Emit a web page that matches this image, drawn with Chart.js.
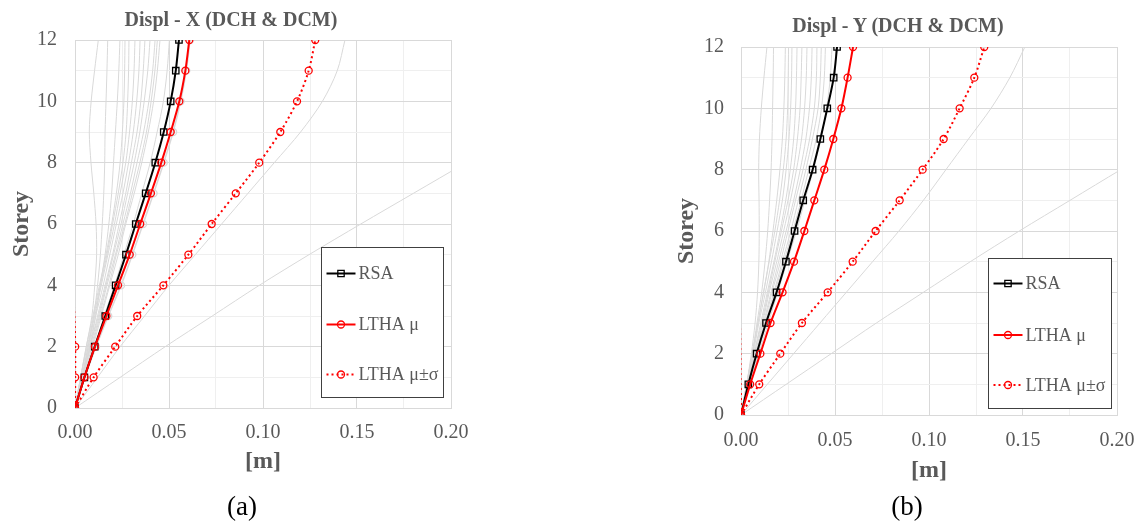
<!DOCTYPE html>
<html>
<head>
<meta charset="utf-8">
<script src="https://cdn.jsdelivr.net/npm/chart.js@4.4.1/dist/chart.umd.min.js"></script>
<style>
  html, body { margin: 0; padding: 0; background: #fff; }
  body { width: 1141px; height: 521px; position: relative; overflow: hidden; font-family: "Liberation Serif", "Times New Roman", serif; }
  canvas { position: absolute; top: 0; }
  .title { position: absolute; width: 320px; text-align: center; font-weight: bold; font-size: 20px; line-height: 24px; color: #595959; }
  .cap { position: absolute; width: 60px; text-align: center; font-size: 27px; line-height: 30px; color: #000; }
</style>
</head>
<body>
<canvas id="chartA" width="570" height="521" style="left:0"></canvas>
<canvas id="chartB" width="571" height="521" style="left:570px"></canvas>
<div class="title" style="left:71px;top:7px">Displ - X (DCH &amp; DCM)</div>
<div class="title" style="left:738px;top:13px">Displ - Y (DCH &amp; DCM)</div>
<div class="cap" style="left:212px;top:491px">(a)</div>
<div class="cap" style="left:877px;top:491px">(b)</div>
<script>
// storeys (y) and displacements in m (x)
const storeys = [0, 1, 2, 3, 4, 5, 6, 7, 8, 9, 10, 11, 12];

// --- (a) direction X
const rsaA      = [0, .0050, .0105, .0161, .0216, .0271, .0323, .0376, .0427, .0472, .0509, .0536, .0553];
const lthaMeanA = [0, .0050, .0106, .0167, .0229, .0291, .0347, .0404, .0459, .0509, .0555, .0587, .0608];
const lthaPlusA = [0, .0099, .0214, .0331, .0470, .0603, .0727, .0855, .0980, .1092, .1181, .1243, .1278];
const lthaMinusA = [0, .0001, .0001, -.0003, -.0012, -.0021, -.0033, -.0047, -.0062, -.0074, -.0071, -.0069, -.0062];
// faint grey profile with circle markers, just right of LTHA mean
const greyMeanA = [0, .0052, .0112, .0177, .0245, .0305, .0362, .0418, .0472, .0522, .0562, .0592, .0612];
const recordsA = [
  [0, .0030, .0060, .0090, .0105, .0115, .0112, .0100, .0085, .0076, .0086, .0104, .0124],
  [0, .0040, .0070, .0100, .0120, .0135, .0145, .0153, .0158, .0160, .0165, .0170, .0174],
  [0, .0040, .0080, .0110, .0135, .0160, .0180, .0195, .0205, .0215, .0225, .0233, .0239],
  [0, .0030, .0060, .0095, .0130, .0165, .0195, .0220, .0240, .0252, .0260, .0264, .0266],
  [0, .0030, .0065, .0100, .0135, .0170, .0200, .0230, .0255, .0272, .0280, .0285, .0287],
  [0, .0035, .0070, .0105, .0140, .0175, .0210, .0240, .0270, .0290, .0305, .0314, .0319],
  [0, .0035, .0075, .0110, .0150, .0185, .0220, .0255, .0285, .0310, .0328, .0340, .0346],
  [0, .0040, .0080, .0120, .0160, .0200, .0235, .0270, .0300, .0330, .0350, .0363, .0372],
  [0, .0040, .0080, .0125, .0165, .0205, .0245, .0280, .0315, .0345, .0368, .0387, .0399],
  [0, .0040, .0085, .0130, .0170, .0215, .0255, .0295, .0330, .0365, .0393, .0413, .0426],
  [0, .0045, .0090, .0135, .0180, .0220, .0265, .0305, .0345, .0380, .0405, .0425, .0438],
  [0, .0045, .0095, .0140, .0185, .0230, .0270, .0315, .0355, .0390, .0418, .0438, .0452],
  [0, .0050, .0105, .0155, .0210, .0260, .0310, .0355, .0400, .0437, .0470, .0490, .0502],
  [0, .0120, .0240, .0370, .0500, .0640, .0780, .0920, .1060, .1200, .1316, .1395, .1436],
  [0, .0240, .0480, .0730, .0980, .1245, .1520, .1800, .2080, .2360, .2620, .2850, .3000]
];

// --- (b) direction Y
const rsaB      = [0, .0039, .0083, .0133, .0189, .0239, .0285, .0331, .0381, .0422, .0459, .0493, .0511];
const lthaMeanB = [0, .0049, .0103, .0157, .0221, .0282, .0337, .0390, .0443, .0491, .0534, .0567, .0596];
const lthaPlusB = [0, .0097, .0209, .0324, .0461, .0594, .0716, .0844, .0966, .1078, .1163, .1241, .1294];
const lthaMinusB = [0, -.0002, -.0003, -.0006, -.0019, -.0030, -.0042, -.0064, -.0080, -.0096, -.0095, -.0107, -.0102];
const recordsB = [
  [0, .0030, .0055, .0075, .0088, .0095, .0097, .0096, .0094, .0098, .0108, .0122, .0138],
  [0, .0030, .0060, .0085, .0110, .0128, .0142, .0152, .0160, .0165, .0168, .0171, .0173],
  [0, .0030, .0060, .0090, .0120, .0148, .0170, .0190, .0207, .0220, .0228, .0233, .0236],
  [0, .0030, .0060, .0090, .0120, .0150, .0180, .0205, .0225, .0240, .0248, .0251, .0253],
  [0, .0030, .0065, .0095, .0130, .0162, .0192, .0220, .0240, .0255, .0264, .0269, .0271],
  [0, .0035, .0070, .0105, .0140, .0175, .0208, .0238, .0262, .0280, .0290, .0295, .0298],
  [0, .0035, .0070, .0110, .0145, .0180, .0215, .0250, .0280, .0300, .0314, .0320, .0324],
  [0, .0035, .0075, .0115, .0150, .0190, .0227, .0263, .0295, .0322, .0338, .0347, .0351],
  [0, .0040, .0080, .0120, .0160, .0200, .0240, .0280, .0315, .0345, .0364, .0374, .0378],
  [0, .0040, .0080, .0125, .0165, .0210, .0250, .0290, .0330, .0365, .0390, .0401, .0404],
  [0, .0040, .0085, .0130, .0175, .0220, .0265, .0305, .0345, .0380, .0410, .0422, .0427],
  [0, .0045, .0090, .0135, .0180, .0228, .0275, .0320, .0360, .0400, .0428, .0443, .0449],
  [0, .0045, .0095, .0145, .0195, .0245, .0295, .0340, .0385, .0425, .0455, .0475, .0484],
  [0, .0140, .0280, .0420, .0560, .0700, .0840, .0970, .1090, .1210, .1330, .1430, .1510],
  [0, .0240, .0480, .0720, .0970, .1220, .1480, .1750, .2020, .2300, .2580, .2850, .3100]
];

const legendLabels = ['RSA', 'LTHA \u03bc', 'LTHA \u03bc\u00b1\u03c3'];

const FONT = '"Liberation Serif", "Times New Roman", serif';
const TXT = '#595959';

const pts = xs => xs.map((x, i) => ({ x: x, y: storeys[i] }));

// legend drawn as a framed box inside the plot, like the Excel one
const boxLegend = {
  id: 'boxLegend',
  afterDraw(chart, args, o) {
    const { ctx, chartArea } = chart;
    const x = Math.round(chartArea.left + o.x) + 0.5;
    const y = Math.round(chartArea.top + o.y) + 0.5;
    ctx.save();
    ctx.fillStyle = '#fff';
    ctx.fillRect(x, y, o.w, o.h);
    ctx.strokeStyle = '#404040';
    ctx.lineWidth = 1;
    ctx.strokeRect(x, y, o.w, o.h);
    o.items.forEach((it, i) => {
      const ds = chart.data.datasets[it.ds];
      const ly = y + o.rows[i];
      ctx.strokeStyle = ds.borderColor;
      ctx.lineWidth = ds.borderWidth;
      ctx.setLineDash(ds.borderDash || []);
      ctx.beginPath();
      ctx.moveTo(x + 5, ly);
      ctx.lineTo(x + 34, ly);
      ctx.stroke();
      ctx.setLineDash([]);
      ctx.fillStyle = 'rgba(255,255,255,0)';
      ctx.lineWidth = 1.3;
      Chart.helpers.drawPoint(ctx, { pointStyle: ds.pointStyle, radius: it.r, borderWidth: 1.3, rotation: 0 }, x + 19.5, ly);
      ctx.fillStyle = TXT;
      ctx.font = '18px ' + FONT;
      ctx.textBaseline = 'middle';
      ctx.fillText(legendLabels[i], x + 37, ly + 1);
    });
    ctx.restore();
  }
};

function makeChart(id, d, g) {
  const gray = d.records.map(r => ({
    data: pts(r), borderColor: '#d9d9d9', borderWidth: 1, pointRadius: 0, tension: 0.3, showLine: true
  }));
  const hollow = 'rgba(255,255,255,0)';
  const datasets = [
    { data: pts(d.plus), borderColor: '#ff0000', borderWidth: 2, borderDash: [2, 3], showLine: true, tension: 0.3,
      pointStyle: 'circle', pointRadius: 3.5, pointBorderWidth: 1.3, pointBorderColor: '#ff0000', pointBackgroundColor: hollow },
    { data: pts(d.minus), borderColor: '#ff0000', borderWidth: 2, borderDash: [2, 3], showLine: true, tension: 0.3,
      pointStyle: 'circle', pointRadius: c => (c.raw && c.raw.x < 0) ? 0 : 3.5, pointBorderWidth: 1.3,
      pointBorderColor: '#ff0000', pointBackgroundColor: hollow },
    { data: pts(d.mean), borderColor: '#ff0000', borderWidth: 2, showLine: true, tension: 0.3,
      pointStyle: 'circle', pointRadius: 3.5, pointBorderWidth: 1.3, pointBorderColor: '#ff0000', pointBackgroundColor: hollow },
    { data: pts(d.rsa), borderColor: '#000000', borderWidth: 2, showLine: true, tension: 0.3,
      pointStyle: 'rect', pointRadius: 4.5, pointBorderWidth: 1.3, pointBorderColor: '#000000', pointBackgroundColor: hollow }
  ];
  if (d.greyMean) {
    datasets.push({ data: pts(d.greyMean), borderColor: '#d9d9d9', borderWidth: 1.5, showLine: true, tension: 0.3,
      pointStyle: 'circle', pointRadius: 3.5, pointBorderWidth: 1.3, pointBorderColor: '#d9d9d9', pointBackgroundColor: hollow });
  }

  const tickFont = { family: FONT, size: 20 };
  const titleFont = { family: FONT, size: 24, weight: 'bold' };
  const gridColor = c => c.index % 2 ? '#efefef' : '#d9d9d9';

  return new Chart(document.getElementById(id), {
    type: 'scatter',
    data: { datasets: datasets.concat(gray) },
    options: {
      responsive: false,
      animation: false,
      layout: { padding: { top: g.top, right: g.right, left: 0, bottom: 0 } },
      plugins: {
        legend: { display: false },
        tooltip: { enabled: false },
        boxLegend: g.legend
      },
      scales: {
        x: {
          type: 'linear', min: 0, max: 0.2,
          ticks: { stepSize: 0.025, autoSkip: false, maxRotation: 0, padding: g.xTickPad, color: TXT, font: tickFont,
                   callback: (v, i) => i % 2 ? '' : v.toFixed(2) },
          grid: { drawTicks: false, color: gridColor },
          border: { color: '#d9d9d9' },
          title: { display: true, text: '[m]', color: TXT, font: titleFont, padding: { top: 0, bottom: g.xTitlePad } },
          afterFit: s => { s.height = g.xH; s.paddingLeft = 0; s.paddingRight = 0; }
        },
        y: {
          type: 'linear', min: 0, max: 12,
          ticks: { stepSize: 1, autoSkip: false, padding: g.yTickPad, color: TXT, font: tickFont,
                   callback: (v, i) => i % 2 ? '' : v },
          grid: { drawTicks: false, color: gridColor },
          border: { color: '#d9d9d9' },
          title: { display: true, text: 'Storey', color: TXT, font: titleFont, padding: { top: g.yTitlePad, bottom: 0 } },
          afterFit: s => { s.width = g.yW; s.paddingTop = 0; s.paddingBottom = 0; }
        }
      }
    },
    plugins: [boxLegend]
  });
}

const legendItems = [{ ds: 3, r: 4.5 }, { ds: 2, r: 3.5 }, { ds: 0, r: 3.5 }];

makeChart('chartA',
  { rsa: rsaA, mean: lthaMeanA, plus: lthaPlusA, minus: lthaMinusA, greyMean: greyMeanA, records: recordsA },
  { top: 40, right: 119, yW: 75, xH: 113, xTickPad: 13, yTickPad: 18, xTitlePad: 44.6, yTitlePad: 7.3,
    legend: { x: 246, y: 206.5, w: 122, h: 150, rows: [26, 77, 127], items: legendItems } });

makeChart('chartB',
  { rsa: rsaB, mean: lthaMeanB, plus: lthaPlusB, minus: lthaMinusB, records: recordsB },
  { top: 47, right: 24, yW: 171, xH: 106, xTickPad: 13.5, yTickPad: 17, xTitlePad: 35.6, yTitlePad: 102.3,
    legend: { x: 247, y: 210.5, w: 123, h: 150, rows: [25, 76.5, 126.5], items: legendItems } });
</script>
</body>
</html>
